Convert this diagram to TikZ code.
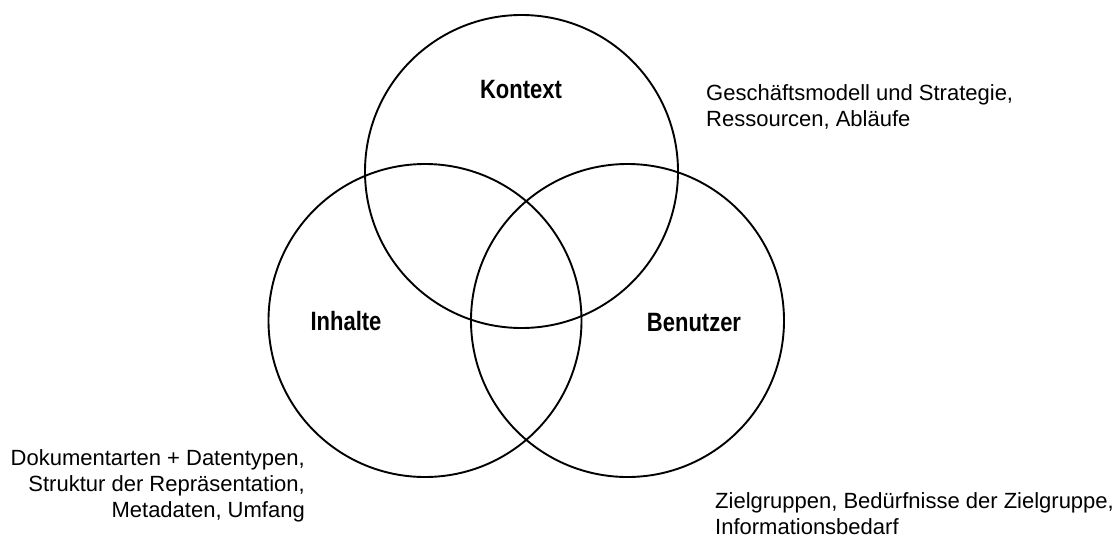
\documentclass[tikz,border=0pt]{standalone}
\usepackage{fontspec}
\setmainfont{Liberation Sans}
\newfontfamily\vennbold[FakeStretch=0.83]{Liberation Sans Bold}
\usetikzlibrary{positioning}
\tikzset{
  venn/.style={circle, draw=black, line width=1.9pt, minimum size=313pt, inner sep=0pt},
  ttl/.style={font=\vennbold\fontsize{26.5}{30}\selectfont, inner sep=0pt, anchor=base},
  dsc/.style={font=\fontsize{22}{26}\selectfont, inner sep=0pt}
}
\begin{document}
\begin{tikzpicture}[x=1pt,y=-1pt]
	\useasboundingbox (0,0) rectangle (1120,536);
	\node[venn] (kontext) at (521.5,171.5) {};
	\node[venn] (inhalte) at (425,320.5) {};
	\node[venn] (benutzer) at (627.5,320.5) {};
	%
	\node[ttl] (kontextlbl) at (521,98.5) {Kontext};
	\node[ttl] (inhaltelbl) at (346,330) {Inhalte};
	\node[ttl] (benutzerlbl) at (694,331) {Benutzer};
	%
	\node[dsc, anchor=north west, align=left] (kontexttxt) at (706,84.5) {Geschäftsmodell und Strategie,\\Ressourcen, Abläufe};
	\node[dsc, anchor=north east, align=right] (inhaltetxt) at (305,449.5) {Dokumentarten + Datentypen,\\Struktur der Repräsentation,\\Metadaten, Umfang};
	\node[dsc, anchor=north west, align=left] (benutzertxt) at (715,492.5) {Zielgruppen, Bedürfnisse der Zielgruppe,\\Informationsbedarf};
\end{tikzpicture}
\end{document}
